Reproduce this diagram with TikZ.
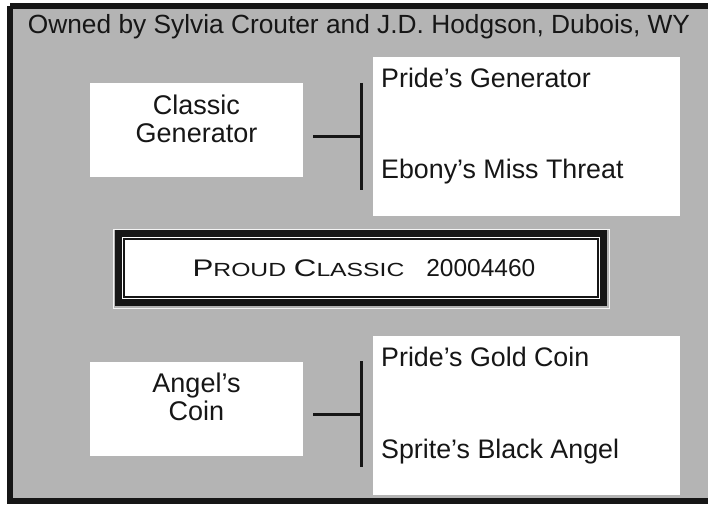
\documentclass[tikz,border=0pt]{standalone}
\usepackage{fontspec}
\setmainfont{Liberation Sans}
\usetikzlibrary{positioning, calc}
\definecolor{pedgray}{HTML}{B4B4B4}
\definecolor{inkblack}{HTML}{161616}

\tikzset{
  horsebox/.style={fill=white, draw=none, minimum width=213pt, minimum height=94pt, inner sep=0pt},
  horsename/.style={align=center, font=\fontsize{27}{28.5}\selectfont, text=inkblack, inner sep=0pt},
  parentbox/.style={fill=white, draw=none, minimum width=307pt, minimum height=159pt, inner sep=0pt},
  parentname/.style={anchor=west, font=\fontsize{26.8}{29}\selectfont, text=inkblack, inner sep=0pt},
  bracket/.style={inkblack, line width=3pt}
}
\newcommand{\smc}[2]{{\fontsize{24}{30}\selectfont #1}{\fontsize{19}{30}\selectfont #2}}

\begin{document}
\begin{tikzpicture}[x=1pt, y=-1pt]
\useasboundingbox (0,0) rectangle (708,505);

% Background
\fill[pedgray] (10,6) rectangle (720,501);
\draw[inkblack, line width=6pt] (10,6) -- (10,501) -- (720,501);
\draw[inkblack, line width=6pt] (10,6) -- (720,6);

% Title
\node[text=inkblack, font=\fontsize{26.3}{28}\selectfont] (owner) at (359,27) {Owned by Sylvia Crouter and J.D. Hodgson, Dubois, WY};

% Sire side
\node[horsebox] (sire) at (196.5,130) {};
\node[horsename] (sirename) at ([yshift=11pt]sire.center) {Classic\\Generator};
\node[parentbox] (sireparents) at (526,136.5) {};
\node[parentname] (ss) at (381,78) {Pride’s Generator};
\node[parentname] (sd) at (381,172) {Ebony’s Miss Threat};
\draw[bracket] ([xshift=10pt, yshift=-7pt]sire.east) -- ++(48,0) coordinate (sirejoin);
\draw[bracket] ($(sirejoin)+(0,-54)$) -- ($(sirejoin)+(0,53)$);

% Registered name
\draw[white!85!pedgray, line width=0.8pt] (113,229) rectangle (609,308);
\node[fill=inkblack, minimum width=492pt, minimum height=76pt, inner sep=0pt] (horse) at (361,268) {};
\draw[white, line width=1pt] ([shift={(7.5pt,-7.5pt)}]horse.north west) rectangle ([shift={(-7.5pt,7.5pt)}]horse.south east);
\fill[white] ([shift={(10pt,-10pt)}]horse.north west) rectangle ([shift={(-10pt,10pt)}]horse.south east);
\node[text=inkblack, inner sep=0pt] (regname) at (364,268)
  {\scalebox{1.3}[1]{\smc{P}{ROUD}\hspace{6pt}\smc{C}{LASSIC}}\hspace{22pt}{\fontsize{24.5}{30}\selectfont 20004460}};

% Dam side
\node[horsebox] (dam) at (196.5,409) {};
\node[horsename] (damname) at ([yshift=12pt]dam.center) {Angel’s\\Coin};
\node[parentbox] (damparents) at (526,415.5) {};
\node[parentname] (ds) at (381,357) {Pride’s Gold Coin};
\node[parentname] (dd) at (381,452) {Sprite’s Black Angel};
\draw[bracket] ([xshift=10pt, yshift=-5pt]dam.east) -- ++(48,0) coordinate (damjoin);
\draw[bracket] ($(damjoin)+(0,-53)$) -- ($(damjoin)+(0,53)$);

\end{tikzpicture}
\end{document}
